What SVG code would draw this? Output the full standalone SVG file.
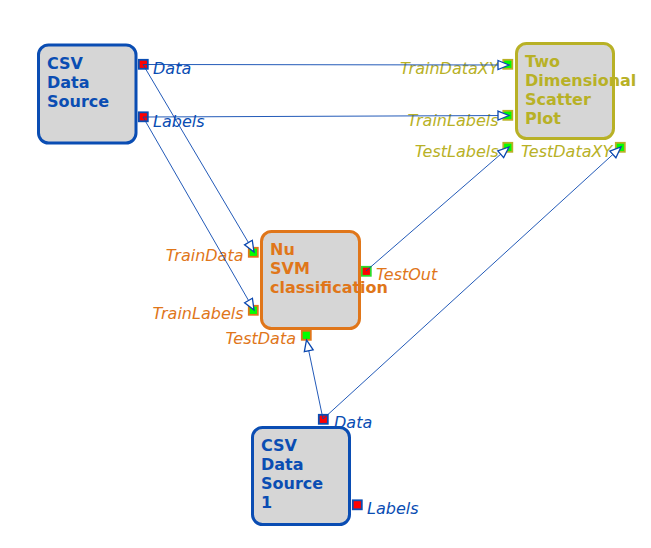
<svg xmlns="http://www.w3.org/2000/svg" width="651" height="548" viewBox="0 0 651 548">
<style>
.box{fill:#d6d6d6;stroke-width:3}
.blue{stroke:#0a4db3}
.orange{stroke:#e0761a}
.olive{stroke:#b8b126}
.title{font-family:"DejaVu Sans",sans-serif;font-weight:bold;font-size:16px}
.lbl{font-family:"DejaVu Sans",sans-serif;font-style:italic;font-size:16px}
.tb{fill:#0a4db3}
.to{fill:#e0761a}
.tl{fill:#b8b126}
.pout{fill:#ff0000;stroke-width:1.8}
.pin{fill:#00ff00;stroke-width:1.8}
.conn{stroke:#0a47b0;stroke-width:0.9;fill:none;marker-end:url(#arr)}
</style>
<defs>
<marker id="arr" markerUnits="userSpaceOnUse" markerWidth="16" markerHeight="14" refX="12" refY="6" orient="auto">
<path d="M1,1.5 L12,6 L1,10.5 Z" fill="#ffffff" stroke="#0a47b0" stroke-width="1.3"/>
</marker>
</defs>
<g id="csv1">
<rect class="box blue" x="38.5" y="45" width="97.5" height="98" rx="10"/>
<text class="title tb" x="47" y="69">CSV</text>
<text class="title tb" x="47" y="88">Data</text>
<text class="title tb" x="47" y="107">Source</text>
<rect class="pout blue" x="138.8" y="59.8" width="9" height="9"/>
<text class="lbl tb" x="153" y="74">Data</text>
<rect class="pout blue" x="138.8" y="112.3" width="9" height="9"/>
<text class="lbl tb" x="153" y="127">Labels</text>
</g>
<g id="scatter">
<rect class="box olive" x="516.5" y="43.5" width="97" height="95" rx="10"/>
<text class="title tl" x="525" y="67">Two</text>
<text class="title tl" x="525" y="86">Dimensional</text>
<text class="title tl" x="525" y="104.5">Scatter</text>
<text class="title tl" x="525" y="123.5">Plot</text>
<rect class="pin olive" x="503.3" y="59.8" width="9" height="9"/>
<text class="lbl tl" x="498.5" y="74" text-anchor="end">TrainDataXY</text>
<rect class="pin olive" x="503.3" y="110.8" width="9" height="9"/>
<text class="lbl tl" x="498.5" y="126" text-anchor="end">TrainLabels</text>
<rect class="pin olive" x="503.3" y="142.8" width="9" height="9"/>
<text class="lbl tl" x="498.5" y="157" text-anchor="end">TestLabels</text>
<rect class="pin olive" x="615.8" y="142.8" width="9" height="9"/>
<text class="lbl tl" x="521" y="157">TestDataXY</text>
</g>
<g id="nusvm">
<rect class="box orange" x="261.5" y="231.5" width="98" height="97" rx="10"/>
<text class="title to" x="270" y="255">Nu</text>
<text class="title to" x="270" y="274">SVM</text>
<text class="title to" x="270" y="293">classification</text>
<rect class="pin orange" x="248.8" y="247.8" width="9" height="9"/>
<text class="lbl to" x="243.5" y="261" text-anchor="end">TrainData</text>
<rect class="pin orange" x="248.8" y="305.8" width="9" height="9"/>
<text class="lbl to" x="243.5" y="319" text-anchor="end">TrainLabels</text>
<rect class="pin orange" x="301.8" y="330.8" width="9" height="9"/>
<text class="lbl to" x="296" y="344" text-anchor="end">TestData</text>
<rect class="pout" style="stroke:#2adc2a" x="361.8" y="266.8" width="9" height="9"/>
<text class="lbl to" x="376" y="280">TestOut</text>
</g>
<g id="csv2">
<rect class="box blue" x="252.5" y="427.5" width="97" height="97" rx="10"/>
<text class="title tb" x="261" y="451">CSV</text>
<text class="title tb" x="261" y="470">Data</text>
<text class="title tb" x="261" y="488.5">Source</text>
<text class="title tb" x="261" y="507.5">1</text>
<rect class="pout blue" x="318.8" y="414.8" width="9" height="9"/>
<text class="lbl tb" x="334" y="428">Data</text>
<rect class="pout blue" x="352.8" y="500.3" width="9" height="9"/>
<text class="lbl tb" x="367" y="514">Labels</text>
</g>
<g id="connectors">
<path class="conn" d="M143,64.5 L509,65"/>
<path class="conn" d="M143,117 L509,115.5"/>
<path class="conn" d="M143,64.5 L254,252"/>
<path class="conn" d="M143,117 L254,310"/>
<path class="conn" d="M366,271 L509,147"/>
<path class="conn" d="M323,419 L306.5,340"/>
<path class="conn" d="M323,419 L621,147"/>
</g>
</svg>
